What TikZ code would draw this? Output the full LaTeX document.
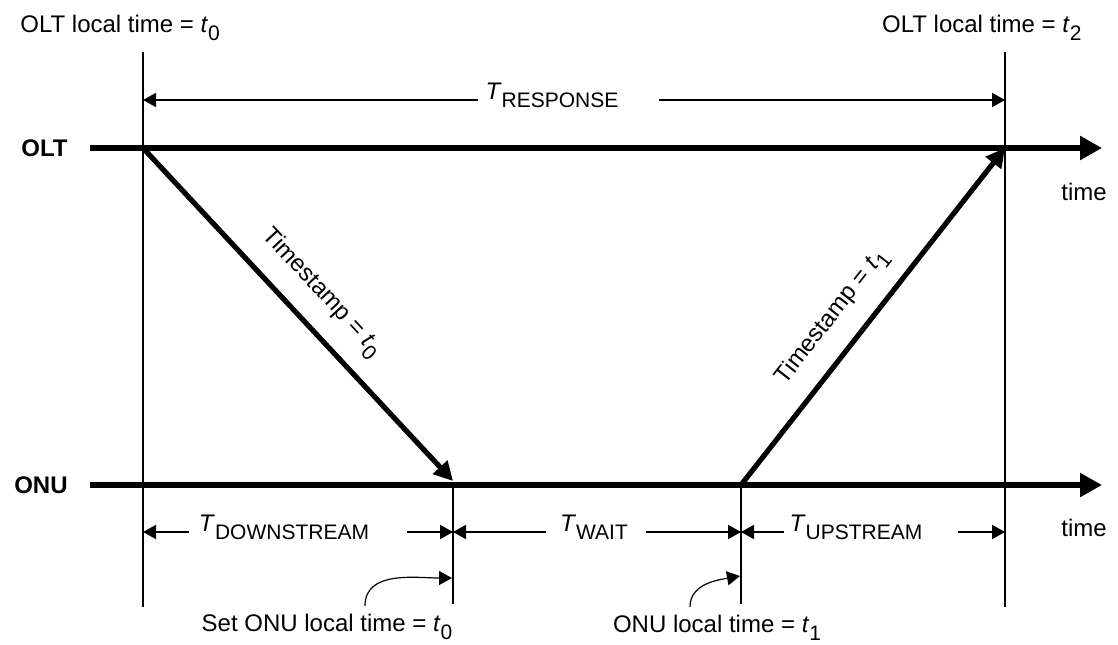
\documentclass[tikz,border=0pt]{standalone}
\usepackage{fontspec}
\setmainfont{Liberation Sans}
\usetikzlibrary{arrows.meta,calc}
\newcommand{\lowsub}[2]{\textit{#1}\raisebox{-4pt}{\fontsize{10.5}{12}\selectfont #2}}

\begin{document}
\begin{tikzpicture}[x=0.5pt,y=-0.5pt,
    every node/.style={font=\fontsize{12}{14}\selectfont, inner sep=0pt},
    side/.style={font=\fontsize{12}{14}\selectfont\bfseries, anchor=east},
    axis/.style={line width=3pt,-{Triangle[length=11pt,width=11.5pt]}},
    msg/.style={line width=2.6pt,-{Triangle[length=9.5pt,width=9.5pt]}},
    tick/.style={line width=0.9pt},
    dim/.style={line width=0.9pt,-{Triangle[length=6.5pt,width=7pt]}},
    dimlbl/.style={text height=7pt, text depth=7.5pt},
    note/.style={line width=0.6pt,-{Triangle[length=6.5pt,width=7pt]}}]
    \useasboundingbox (0,0) rectangle (1118,644);

    \coordinate (a) at (143,148);
    \coordinate (b) at (453,485);
    \coordinate (c) at (741,485);
    \coordinate (d) at (1005,148);
    \coordinate (oltE) at (1102,148);
    \coordinate (onuE) at (1102,485);

    \node[side] (olt) at (68,148) {OLT};
    \node[side] (onu) at (68,485) {ONU};
    \node (time1) at (1084,192) {time};
    \node (time2) at (1084,528) {time};

    \node[anchor=west] (tl0) at (20,28) {OLT local time = \lowsub{t}{0}};
    \node[anchor=east] (tl2) at (1082,28) {OLT local time = \lowsub{t}{2}};

    \draw[tick] (a |- 0,52) -- (a |- 0,607);
    \draw[tick] (d |- 0,52) -- (d |- 0,607);
    \draw[tick] (b) -- (b |- 0,604);
    \draw[tick] (c) -- (c |- 0,604);

    \draw[axis] ([xshift=11pt]olt.east) -- (oltE);
    \draw[axis] ([xshift=11pt]onu.east) -- (onuE);

    \draw[msg] (a) -- node[sloped, above=8pt, pos=0.5] (stamp0) {Timestamp = \lowsub{t}{0}} ([yshift=2pt]b);
    \draw[msg] (c) -- node[sloped, above=8pt, pos=0.44] (stamp1) {Timestamp = \lowsub{t}{1}} (d);

    \node[dimlbl] (resp) at (552,100) {\lowsub{T}{RESPONSE}};
    \draw[dim] ([xshift=-3.5pt]resp.west) -- (resp.west -| a);
    \draw[dim] ([xshift=20pt]resp.east) -- (resp.east -| d);

    \node[dimlbl] (down) at (284,532) {\lowsub{T}{DOWNSTREAM}};
    \draw[dim] ([xshift=-5pt]down.west) -- (down.west -| a);
    \draw[dim] ([xshift=19pt]down.east) -- (down.east -| b);

    \node[dimlbl] (wait) at (594,532) {\lowsub{T}{WAIT}};
    \draw[dim] ([xshift=-7pt]wait.west) -- (wait.west -| b);
    \draw[dim] ([xshift=9pt]wait.east) -- (wait.east -| c);

    \node[dimlbl] (up) at (856,532) {\lowsub{T}{UPSTREAM}};
    \draw[dim] ([xshift=-2.5pt]up.west) -- (up.west -| c);
    \draw[dim] ([xshift=17.5pt]up.east) -- (up.east -| d);

    \node (setlbl) at (327,627) {Set ONU local time = \lowsub{t}{0}};
    \node (onulbl) at (717,628) {ONU local time = \lowsub{t}{1}};
    \coordinate (bmark) at (452,578);
    \coordinate (cmark) at (740,576);
    \draw[note] ([xshift=19pt,yshift=4pt]setlbl.north) to[out=90,in=180] (bmark);
    \draw[note] ([xshift=-13.5pt,yshift=4pt]onulbl.north) to[out=90,in=190] (cmark);
\end{tikzpicture}
\end{document}
